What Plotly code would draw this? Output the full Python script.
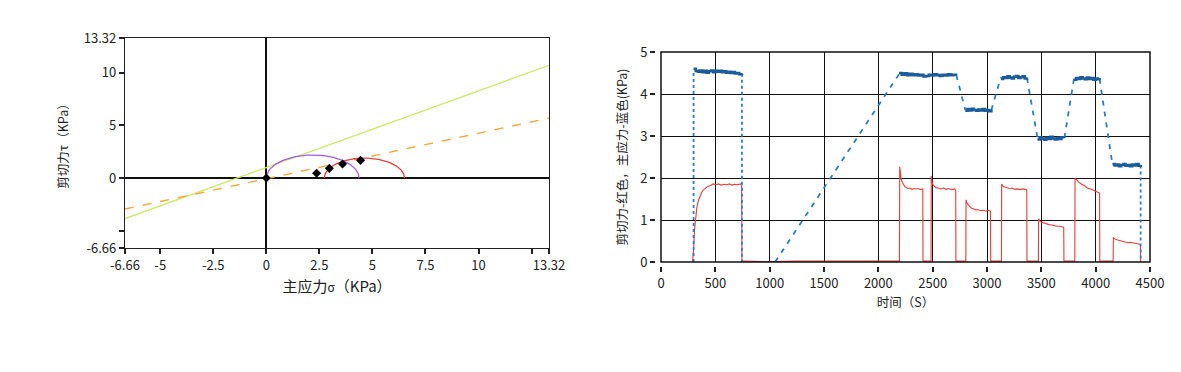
import numpy as np
import plotly.graph_objects as go

# ---------------- Left chart data (Mohr circles) ----------------
axis_min, axis_max = -6.66, 13.32
x_tickvals = [-6.66, -5, -2.5, 0, 2.5, 5, 7.5, 10, 12.5, 13.32]
x_ticktext = ["-6.66", "-5", "-2.5", "0", "2.5", "5", "7.5", "10", "", "13.32"]
y_tickvals = [-6.66, -5, 0, 5, 10, 13.32]
y_ticktext = ["-6.66", "", "0", "5", "10", "13.32"]

envelope_names = ["green", "orange"]
envelope_slope = [0.73, 0.433]
envelope_intercept = [1.0, -0.07]
envelope_colors = ["#cdeb6e", "#f2a93a"]
envelope_dash = ["solid", "dash"]

circle_centers = [2.185, 4.62]
circle_radii = [2.185, 1.89]
circle_colors = ["#a45ce6", "#e84040"]

point_sigma = [0.0, 2.37, 2.97, 3.59, 4.44]
point_tau = [0.0, 0.45, 0.92, 1.33, 1.68]

# ---------------- Right chart data (time series) ----------------
red_t = [290, 300, 308, 315, 322, 330, 345, 360, 375, 390, 410, 430, 455, 480, 505, 530, 555, 580,
         605, 630, 655, 680, 705, 730, 742, 745,
         760, 1000, 1250, 1500, 1750, 2000, 2194,
         2197, 2203, 2210, 2220, 2232, 2245, 2260, 2275, 2290, 2310, 2330, 2350, 2370, 2390, 2409, 2411,
         2485, 2487, 2493, 2502, 2515, 2530, 2550, 2575, 2600, 2625, 2650, 2675, 2700, 2712, 2714,
         2805, 2807, 2815, 2828, 2842, 2858, 2875, 2895, 2915, 2940, 2965, 2990, 3012, 3032, 3034,
         3133, 3135, 3145, 3160, 3180, 3205, 3230, 3255, 3280, 3305, 3330, 3350, 3366, 3368,
         3473, 3475, 3485, 3500, 3520, 3545, 3570, 3595, 3620, 3645, 3670, 3690, 3706, 3708,
         3808, 3810, 3825, 3845, 3870, 3895, 3920, 3945, 3970, 3995, 4015, 4036, 4038,
         4161, 4163, 4175, 4195, 4220, 4245, 4270, 4295, 4320, 4345, 4370, 4395, 4412, 4414]
red_v = [0.0, 0.3, 0.75, 1.0, 1.18, 1.3, 1.47, 1.58, 1.66, 1.72, 1.76, 1.8, 1.82, 1.86, 1.84, 1.86,
         1.83, 1.85, 1.84, 1.86, 1.83, 1.85, 1.84, 1.86, 1.84, 0.02,
         0.02, 0.01, 0.02, 0.02, 0.01, 0.02, 0.02,
         2.27, 2.08, 1.98, 1.9, 1.84, 1.79, 1.77, 1.75, 1.76, 1.73, 1.75, 1.74, 1.75, 1.72, 1.74, 0.02,
         0.02, 2.05, 1.92, 1.84, 1.8, 1.77, 1.76, 1.74, 1.76, 1.73, 1.75, 1.72, 1.74, 1.71, 0.02,
         0.02, 1.48, 1.41, 1.36, 1.32, 1.28, 1.27, 1.24, 1.25, 1.22, 1.23, 1.21, 1.23, 1.21, 0.02,
         0.02, 1.86, 1.81, 1.79, 1.77, 1.75, 1.76, 1.73, 1.74, 1.72, 1.74, 1.73, 1.72, 0.02,
         0.02, 1.03, 0.98, 0.95, 0.93, 0.91, 0.89, 0.88, 0.86, 0.85, 0.85, 0.84, 0.83, 0.02,
         0.02, 2.0, 1.95, 1.9, 1.85, 1.82, 1.77, 1.75, 1.72, 1.69, 1.67, 1.64, 0.02,
         0.02, 0.59, 0.55, 0.53, 0.51, 0.49, 0.48, 0.46, 0.47, 0.45, 0.44, 0.43, 0.42, 0.0]

# Blue transitions (dashed/dotted connecting segments)
blue_seg_t = [[300, 300], [745, 745], [1050, 2190], [2718, 2800], [3040, 3128],
              [3368, 3465], [3712, 3800], [4036, 4155], [4414, 4414]]
blue_seg_v = [[0.0, 4.58], [4.48, 0.0], [0.0, 4.47], [4.45, 3.62], [3.62, 4.40],
              [4.38, 2.95], [2.95, 4.36], [4.36, 2.31], [2.30, 0.0]]
blue_seg_dash = ["dot", "dot", "dash", "dash", "dash", "dash", "dash", "dash", "dot"]

# Blue plateaus (noisy held values)
blue_plat_t = [
    [300, 320, 340, 360, 380, 400, 420, 440, 460, 480, 500, 520, 540, 560, 580, 600, 620, 640, 660,
     680, 700, 720, 745],
    [2190, 2215, 2240, 2265, 2290, 2315, 2340, 2365, 2390, 2415, 2440, 2465, 2490, 2515, 2540, 2565,
     2590, 2615, 2640, 2665, 2690, 2715],
    [2800, 2820, 2840, 2860, 2880, 2900, 2920, 2940, 2960, 2980, 3000, 3020, 3040],
    [3128, 3148, 3168, 3188, 3208, 3228, 3248, 3268, 3288, 3308, 3328, 3348, 3368],
    [3465, 3485, 3505, 3525, 3545, 3565, 3585, 3605, 3625, 3645, 3665, 3685, 3712],
    [3800, 3820, 3840, 3860, 3880, 3900, 3920, 3940, 3960, 3980, 4000, 4020, 4036],
    [4155, 4175, 4195, 4215, 4235, 4255, 4275, 4295, 4315, 4335, 4355, 4375, 4395, 4414]]
blue_plat_v = [
    [4.60, 4.55, 4.53, 4.56, 4.52, 4.55, 4.51, 4.54, 4.56, 4.52, 4.55, 4.53, 4.55, 4.52, 4.54, 4.51,
     4.53, 4.50, 4.52, 4.49, 4.50, 4.47, 4.49],
    [4.50, 4.46, 4.49, 4.45, 4.48, 4.45, 4.47, 4.44, 4.46, 4.42, 4.43, 4.46, 4.44, 4.47, 4.45, 4.43,
     4.46, 4.44, 4.47, 4.45, 4.46, 4.44],
    [3.60, 3.64, 3.61, 3.65, 3.62, 3.60, 3.63, 3.61, 3.64, 3.60, 3.62, 3.59, 3.63],
    [4.36, 4.40, 4.38, 4.42, 4.39, 4.37, 4.41, 4.43, 4.38, 4.40, 4.42, 4.37, 4.39],
    [2.92, 2.97, 2.94, 2.91, 2.96, 2.93, 2.98, 2.94, 2.92, 2.96, 2.93, 2.97, 2.95],
    [4.34, 4.38, 4.36, 4.40, 4.37, 4.35, 4.39, 4.36, 4.38, 4.34, 4.37, 4.35, 4.33],
    [2.33, 2.30, 2.32, 2.28, 2.31, 2.33, 2.29, 2.31, 2.28, 2.32, 2.30, 2.33, 2.29, 2.31]]

right_x_ticks = [0, 500, 1000, 1500, 2000, 2500, 3000, 3500, 4000, 4500]
right_y_ticks = [0, 1, 2, 3, 4, 5]

FONT = "Noto Sans CJK SC, Noto Sans, sans-serif"
W, H = 1181, 372

fig = go.Figure()

# ---- Left chart traces ----
xs = np.array([axis_min, axis_max])
for name, m, b, c, d in zip(envelope_names, envelope_slope, envelope_intercept, envelope_colors, envelope_dash):
    fig.add_trace(go.Scatter(x=xs, y=m * xs + b, mode="lines", line=dict(color=c, width=1.4, dash=d),
                             xaxis="x", yaxis="y", showlegend=False, hoverinfo="skip"))

theta = np.linspace(0, np.pi, 120)
for cx, r, c in zip(circle_centers, circle_radii, circle_colors):
    fig.add_trace(go.Scatter(x=cx + r * np.cos(theta), y=r * np.sin(theta), mode="lines",
                             line=dict(color=c, width=1.3), xaxis="x", yaxis="y", showlegend=False))

fig.add_trace(go.Scatter(x=point_sigma, y=point_tau, mode="markers",
                         marker=dict(symbol="diamond", size=7, color="black"),
                         xaxis="x", yaxis="y", showlegend=False))

# ---- Right chart traces ----
fig.add_trace(go.Scatter(x=red_t, y=red_v, mode="lines", line=dict(color="#ee3b36", width=1.1),
                         xaxis="x2", yaxis="y2", showlegend=False))
for t, v, d in zip(blue_seg_t, blue_seg_v, blue_seg_dash):
    fig.add_trace(go.Scatter(x=t, y=v, mode="lines",
                             line=dict(color="#2d7dbb", width=1.8, dash="5px,6px" if d == "dash" else "3px,3px"),
                             xaxis="x2", yaxis="y2", showlegend=False))
for t, v in zip(blue_plat_t, blue_plat_v):
    fig.add_trace(go.Scatter(x=t, y=v, mode="lines", line=dict(color="#1c5b9c", width=2.6, shape="hv"),
                             xaxis="x2", yaxis="y2", showlegend=False))

# domains
lx = [125 / W, 549 / W]
ly = [1 - 248 / H, 1 - 38 / H]
rx = [661 / W, 1150 / W]
ry = [1 - 262 / H, 1 - 52 / H]

tickfont = dict(family=FONT, size=13, color="#222")

fig.update_layout(
    width=W, height=H, margin=dict(l=0, r=0, t=0, b=0, autoexpand=False),
    paper_bgcolor="white", plot_bgcolor="white",
    font=dict(family=FONT, color="#222"),
    xaxis=dict(domain=lx, range=[axis_min, axis_max], tickvals=x_tickvals, ticktext=x_ticktext,
               ticks="outside", ticklen=5, tickwidth=1.5, tickcolor="#222",
               showline=True, linecolor="#222", linewidth=1.3, mirror=True,
               showgrid=False, zeroline=True, zerolinecolor="#111", zerolinewidth=1.5,
               tickfont=tickfont, anchor="y", automargin=False,
               title=dict(text="主应力<span style='font-size:12px'>σ</span>（KPa）",
                          font=dict(family=FONT, size=15, color="#222"), standoff=8)),
    yaxis=dict(domain=ly, range=[axis_min, axis_max], tickvals=y_tickvals, ticktext=y_ticktext,
               ticks="outside", ticklen=5, tickwidth=1.5, tickcolor="#222",
               showline=True, linecolor="#222", linewidth=1.3, mirror=True,
               showgrid=False, zeroline=True, zerolinecolor="#111", zerolinewidth=1.5,
               tickfont=tickfont, anchor="x", automargin=False,
               title=dict(text="剪切力τ（KPa）", font=dict(family=FONT, size=12.5, color="#222"),
                          standoff=12)),
    xaxis2=dict(domain=rx, range=[0, 4500], tickvals=right_x_ticks,
                ticks="outside", ticklen=5, tickwidth=1.5, tickcolor="#222",
                showline=False, showgrid=True, gridcolor="#111", gridwidth=1.3, zeroline=False,
                anchor="free", position=ry[0] - 4 / H, automargin=False,
                tickfont=dict(family=FONT, size=13, color="#222"),
                title=dict(text="时间（S）", font=dict(family=FONT, size=12.5, color="#222"), standoff=4)),
    yaxis2=dict(domain=ry, range=[0, 5], tickvals=right_y_ticks,
                ticks="outside", ticklen=5, tickwidth=1.5, tickcolor="#222",
                showline=False, showgrid=True, gridcolor="#111", gridwidth=1.3, zeroline=False,
                anchor="free", position=rx[0] - 6 / W, automargin=False,
                tickfont=dict(family=FONT, size=13, color="#222"),
                title=dict(text="剪切力-红色，主应力-蓝色(KPa)", font=dict(family=FONT, size=12.5, color="#222"),
                           standoff=8)),
    shapes=[dict(type="rect", xref="x2 domain", yref="y2 domain", x0=0, x1=1, y0=0, y1=1,
                 line=dict(color="#111", width=1.5), layer="above")],
)

fig.write_html("out.html", config={"displayModeBar": False},
               post_script="document.body.style.margin='0';")
